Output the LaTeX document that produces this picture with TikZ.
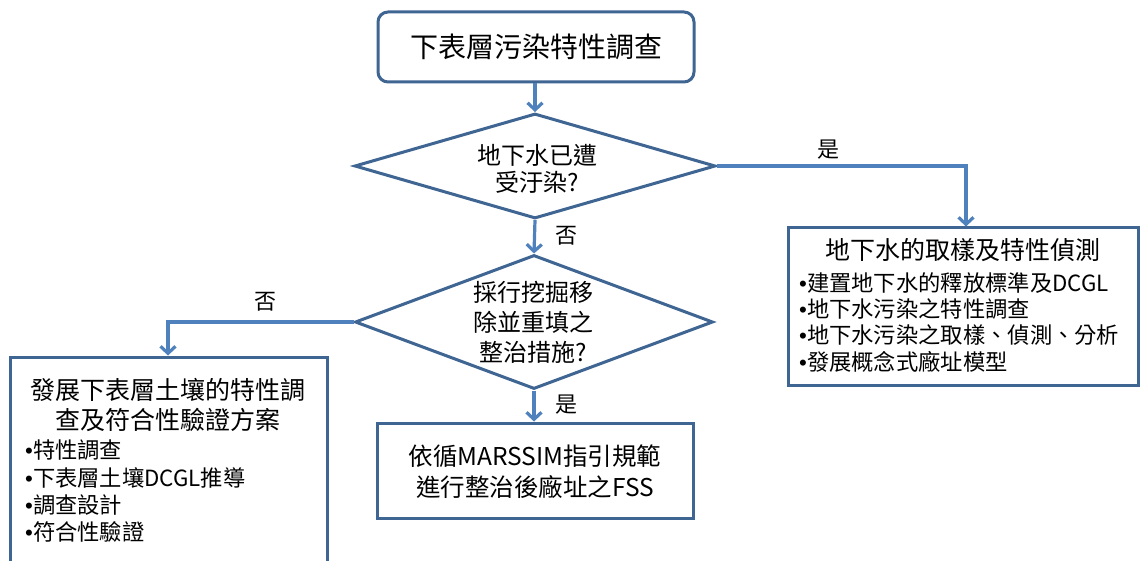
\documentclass[tikz,border=0pt]{standalone}
\usepackage{fontspec}
\setmainfont{Noto Sans CJK TC}
\newfontfamily\bulf{Liberation Sans}
\usetikzlibrary{shapes.geometric,arrows.meta}
\definecolor{boxc}{HTML}{3F6593}
\definecolor{arrc}{HTML}{4F81BD}
\newcommand{\mybullet}{{\bulf •}}
\begin{document}
\begin{tikzpicture}[x=1pt,y=-1pt,
  boxst/.style={draw=boxc,line width=3pt,fill=white,inner sep=0pt},
  diast/.style={diamond,draw=boxc,line width=3pt,inner sep=0pt},
  conn/.style={draw=arrc,line width=3.2pt,-{Straight Barb[length=7pt,width=15pt,line width=3.2pt]}},
  big/.style={font=\fontsize{28}{32}\selectfont,inner sep=0pt},
  mid/.style={font=\fontsize{24}{27}\selectfont,inner sep=0pt,align=center},
  ttl/.style={font=\fontsize{25}{30}\selectfont,inner sep=0pt,align=center},
  bul/.style={font=\fontsize{22.3}{24}\selectfont,inner sep=0pt,anchor=west},
  lab/.style={font=\fontsize{22}{24}\selectfont,inner sep=0pt}]
\useasboundingbox (0,0) rectangle (1140,561);
\fill[white] (0,0) rectangle (1140,561);

% top box
\node[boxst,rounded corners=10pt,minimum width=316pt,minimum height=70pt] (top) at (536,47) {};
\node[big] (topt) at (top) {下表層污染特性調查};

% diamond 1
\node[diast,minimum width=361pt,minimum height=105pt] (d1) at (535,166) {};
\node[mid] (d1t) at (537,169) {地下水已遭\\受汙染?};

% diamond 2
\node[diast,minimum width=358pt,minimum height=134pt] (d2) at (534,322) {};
\node[mid,font=\fontsize{24}{30}\selectfont] (d2t) at (533,322) {採行挖掘移\\除並重填之\\整治措施?};

% right box
\node[boxst,minimum width=350pt,minimum height=157pt] (rb) at (963,306.5) {};
\node[ttl] (rbt) at (963,250) {地下水的取樣及特性偵測};
\node[bul] (rb1) at (799,283) {\mybullet{}建置地下水的釋放標準及DCGL};
\node[bul] (rb2) at (799,309) {\mybullet{}地下水污染之特性調查};
\node[bul] (rb3) at (799,335) {\mybullet{}地下水污染之取樣、偵測、分析};
\node[bul] (rb4) at (799,362) {\mybullet{}發展概念式廠址模型};

% left box
\node[boxst,minimum width=317pt,minimum height=215pt] (lb) at (168.5,464.5) {};
\node[ttl] (lbt) at (168,405) {發展下表層土壤的特性調\\查及符合性驗證方案};
\node[bul] (lb1) at (25,450) {\mybullet{}特性調查};
\node[bul] (lb2) at (25,478) {\mybullet{}下表層土壤DCGL推導};
\node[bul] (lb3) at (25,505) {\mybullet{}調查設計};
\node[bul] (lb4) at (25,532) {\mybullet{}符合性驗證};

% bottom box
\node[boxst,minimum width=316pt,minimum height=95pt] (bb) at (535,470.5) {};
\node[mid,font=\fontsize{24.5}{31}\selectfont] (bbt) at (535,472) {依循MARSSIM指引規範\\進行整治後廠址之FSS};

% labels
\node[lab] (lyes1) at (828,150) {是};
\node[lab] (lno1) at (566,236) {否};
\node[lab] (lno2) at (265,302) {否};
\node[lab] (lyes2) at (566,405) {是};

% connectors
\coordinate (c1) at (966,166);
\coordinate (c2) at (168,322);
\draw[conn] (top.south -| d1.north) -- (d1.north);
\draw[conn] (d1.east) -- (c1) -- (c1 |- rb.north);
\draw[conn] (d1.south) -- (d2.north);
\draw[conn] (d2.west) -- (c2) -- (c2 |- lb.north);
\draw[conn] (d2.south) -- (d2.south |- bb.north);
\end{tikzpicture}
\end{document}
